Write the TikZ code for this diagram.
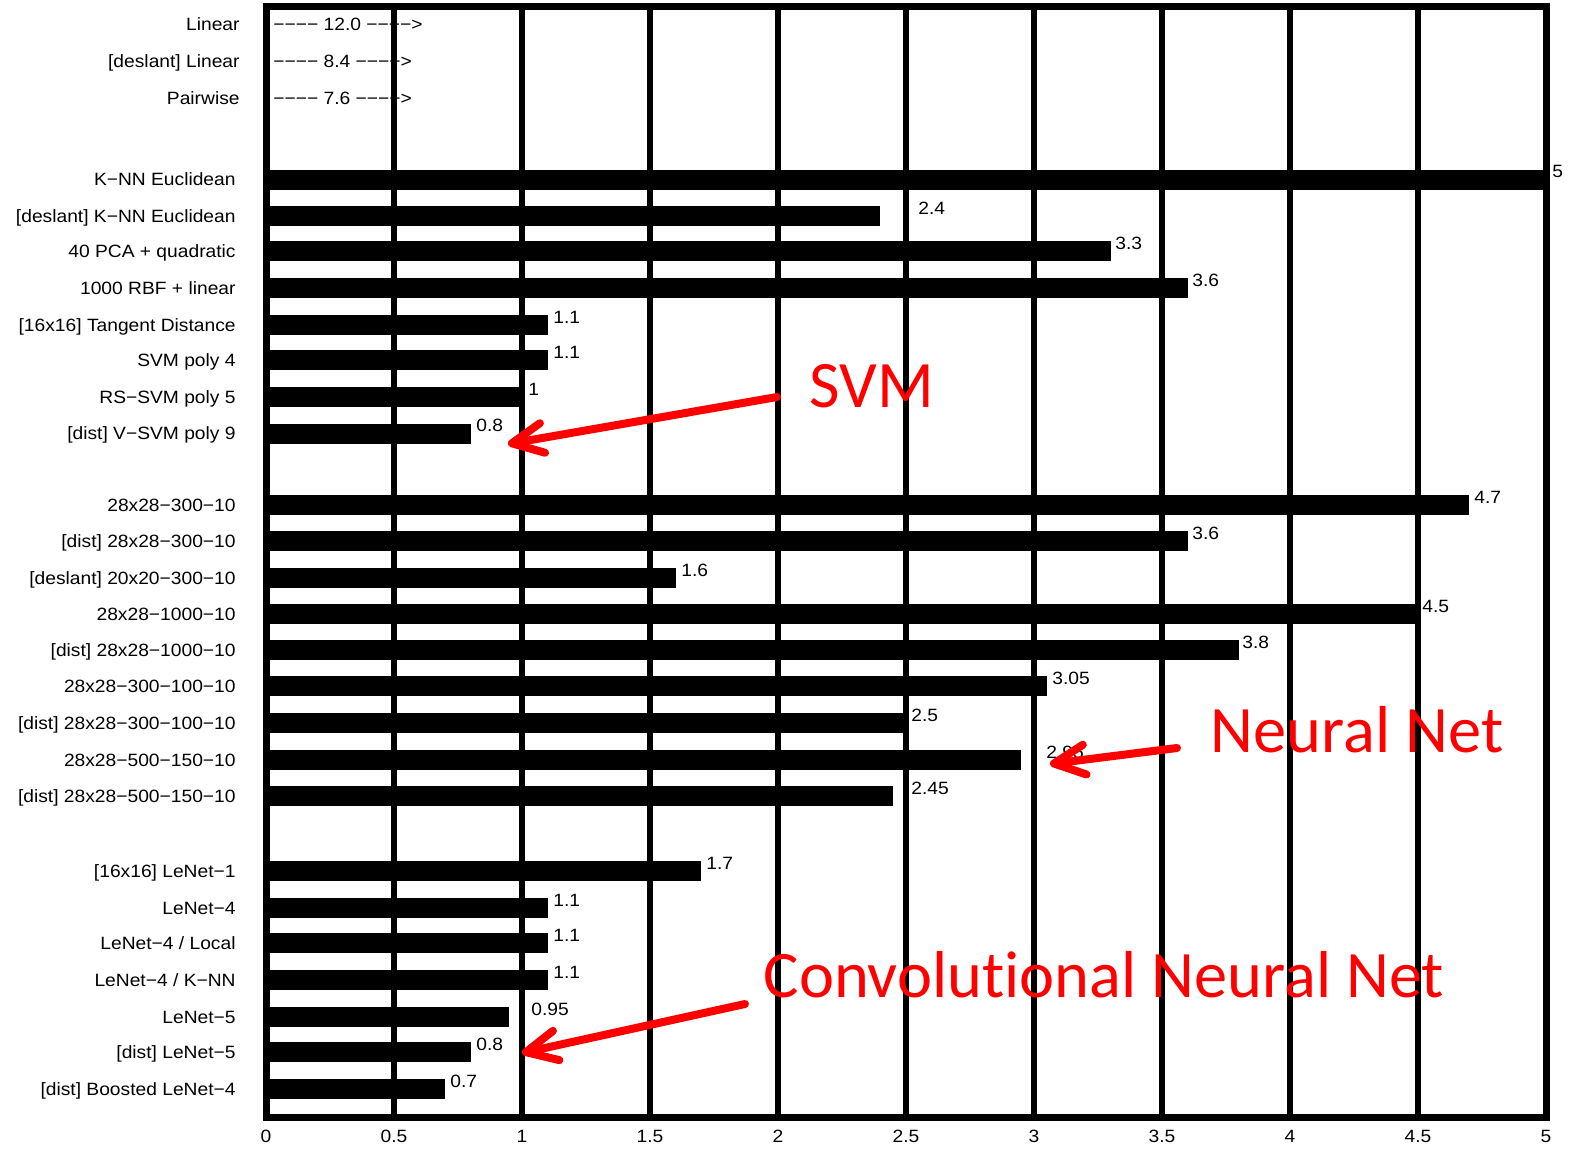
\documentclass[tikz,border=0pt]{standalone}
\usepackage{fontspec}
\usetikzlibrary{arrows.meta}
\newfontfamily\chartfont[FakeStretch=1.08]{Liberation Sans}
\newfontfamily\notefont[Ligatures={NoCommon,NoContextual}]{Carlito}
\definecolor{notered}{RGB}{255,0,0}

\tikzset{
  chartfontsize/.style={font=\chartfont\fontsize{8.9pt}{10pt}\selectfont},
  rowlabel/.style={chartfontsize, anchor=base east, inner sep=0pt},
  vallabel/.style={chartfontsize, anchor=base west, inner sep=0pt},
  ticklabel/.style={chartfontsize, anchor=base, inner sep=0pt},
  offscale/.style={chartfontsize, anchor=base west, inner sep=0pt},
  bar/.style={fill=black},
  gridline/.style={line width=2.75pt},
  chartframe/.style={line width=3.5pt},
  note/.style={text=notered, inner sep=0pt, anchor=base,
    font=\notefont\fontsize{33.2pt}{40pt}\selectfont},
  notearrow/.style={draw=notered, line width=4pt, line cap=round,
    -{Straight Barb[length=15.5pt 0, width=15pt 0, line cap=round, line join=round]}},
}

\begin{document}
\begin{tikzpicture}[x=0.5pt, y=-0.5pt]
  \useasboundingbox (0,0) rectangle (1571,1148);
  \fill[white] (0,0) rectangle (1571,1148);

  % classifiers whose error is off the scale
  \foreach \y/\txt/\val [count=\i] in {24/Linear/12.0, 61/{[deslant] Linear}/8.4, 98/Pairwise/7.6} {
    \node[rowlabel] (top\i) at (240,\y+6) {\txt};
    \node[offscale] (topval\i) at (273,\y+6) {−−−− \val\ −−−−>};
  }

  % grid lines every 0.5
  \foreach \k in {1,...,9}
    \draw[gridline] ({266+128*\k},6) -- ({266+128*\k},1117);

  % bars: y centre / error / label x / row text
  \foreach \y/\v/\lx/\txt [count=\i] in {
      179.5/5/1552/{K−NN Euclidean},
      216/2.4/918/{[deslant] K−NN Euclidean},
      251/3.3/1115/{40 PCA + quadratic},
      288/3.6/1192/{1000 RBF + linear},
      325/1.1/553/{[16x16] Tangent Distance},
      360/1.1/553/{SVM poly 4},
      397/1/528/{RS−SVM poly 5},
      433.5/0.8/476/{[dist] V−SVM poly 9},
      505/4.7/1474/{28x28−300−10},
      541/3.6/1192/{[dist] 28x28−300−10},
      578/1.6/681/{[deslant] 20x20−300−10},
      614/4.5/1422/{28x28−1000−10},
      650/3.8/1242/{[dist] 28x28−1000−10},
      686/3.05/1052/{28x28−300−100−10},
      723/2.5/911/{[dist] 28x28−300−100−10},
      760/2.95/1046/{28x28−500−150−10},
      796/2.45/911/{[dist] 28x28−500−150−10},
      871/1.7/706/{[16x16] LeNet−1},
      908/1.1/553/{LeNet−4},
      943/1.1/553/{LeNet−4 / Local},
      980/1.1/553/{LeNet−4 / K−NN},
      1017/0.95/531/{LeNet−5},
      1052/0.8/476/{[dist] LeNet−5},
      1089/0.7/450/{[dist] Boosted LeNet−4}} {
    \fill[bar] (266,\y-10) rectangle ({266+256*\v},\y+10);
    \node[rowlabel] (row\i) at (236,\y+6) {\txt};
    \node[vallabel] (val\i) at (\lx,\y-2) {\v};
  }

  % frame
  \draw[chartframe] (266,6) rectangle (1546,1117);

  % x axis ticks
  \foreach \t [count=\i] in {0,0.5,1,1.5,2,2.5,3,3.5,4,4.5,5}
    \node[ticklabel] (tick\i) at ({266+256*\t},1142) {\t};

  % annotations
  \node[note] (svm) at (872,407) {SVM};
  \node[note] (nn) at (1357,752) {Neural Net};
  \node[note] (cnn) at (1104,997) {Convolut\kern0pt ional Neural Net};

  \coordinate (svmfrom) at (777,397);
  \coordinate (svmto) at (508,444);
  \coordinate (nnfrom) at (1177,748);
  \coordinate (nnto) at (1050,764);
  \coordinate (cnnfrom) at (745,1004);
  \coordinate (cnnto) at (522,1053);

  \draw[notearrow] (svmfrom) -- (svmto);
  \draw[notearrow] (nnfrom) -- (nnto);
  \draw[notearrow] (cnnfrom) -- (cnnto);
\end{tikzpicture}
\end{document}
